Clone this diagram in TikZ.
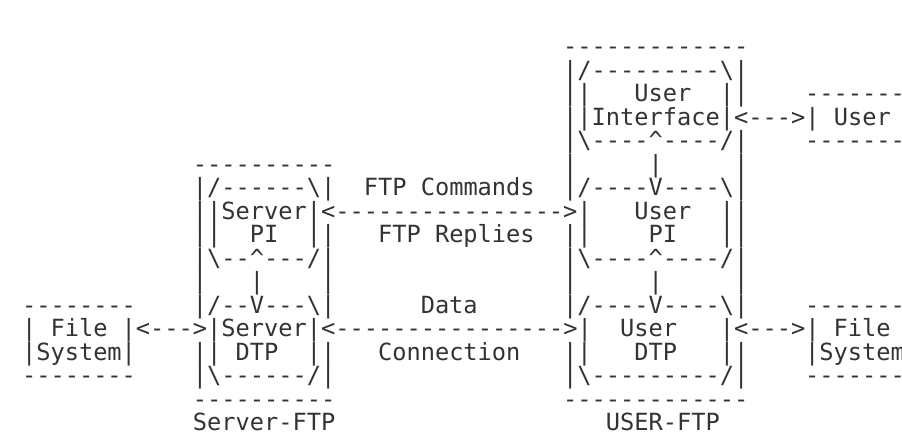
\documentclass[tikz,border=0pt]{standalone}
\usepackage{fontspec}
\setmonofont{DejaVu Sans Mono}
\newcommand{\BS}{\textbackslash}
\newcommand{\UP}{\textasciicircum}
\tikzset{asc/.style={anchor=base west,inner sep=0pt,outer sep=0pt,
    text=black!80,font=\ttfamily\fontsize{11.83pt}{11.75pt}\selectfont}}

\begin{document}
\begin{tikzpicture}
\useasboundingbox (0,0) rectangle (451pt,-217pt);
\fill[white] (0,0) rectangle (451pt,-217pt);
\clip (0,0) rectangle (451pt,-217pt);

\begin{scope}[shift={(-31.7pt,-27.25pt)},x=7.12pt,y=-11.75pt]

% user interface
\node[asc] (uiTop) at (44,0) {-------------};
\node[asc] (uiA) at (44,1) {|/---------\BS|};
\node[asc] (uiB) at (44,2) {||};
\node[asc] (uiUser) at (49,2) {User};
\node[asc] (uiC) at (55,2) {||};
\node[asc] (usrTop) at (61,2) {--------};
\node[asc] (uiIntf) at (44,3) {||Interface|<--->|~User~|};
\node[asc] (uiBot) at (44,4) {|\BS----\UP----/|};
\node[asc] (usrBot) at (61,4) {--------};

% server PI / user PI
\node[asc] (srvTop) at (18,5) {----------};
\node[asc] (uiD) at (44,5) {|};
\node[asc] (uiE) at (50,5) {|};
\node[asc] (uiF) at (56,5) {|};
\node[asc] (spiTop) at (18,6) {|/------\BS|};
\node[asc] (cmds) at (30,6) {FTP~Commands};
\node[asc] (upiTop) at (44,6) {|/----V----\BS|};
\node[asc] (spiSrv) at (18,7) {||Server|<---------------->|};
\node[asc] (upiUser) at (49,7) {User};
\node[asc] (upiA) at (55,7) {||};
\node[asc] (spiA) at (18,8) {||};
\node[asc] (spiPI) at (22,8) {PI};
\node[asc] (spiB) at (26,8) {||};
\node[asc] (replies) at (31,8) {FTP~Replies};
\node[asc] (upiB) at (44,8) {||};
\node[asc] (upiPI) at (50,8) {PI};
\node[asc] (upiC) at (55,8) {||};
\node[asc] (spiBot) at (18,9) {|\BS--\UP---/|};
\node[asc] (upiBot) at (44,9) {|\BS----\UP----/|};
\node[asc] (srvA) at (18,10) {|};
\node[asc] (srvB) at (22,10) {|};
\node[asc] (srvC) at (27,10) {|};
\node[asc] (usrA) at (44,10) {|};
\node[asc] (usrB) at (50,10) {|};
\node[asc] (usrC) at (56,10) {|};

% file systems and DTPs
\node[asc] (sfsTop) at (6,11) {--------};
\node[asc] (sdtpTop) at (18,11) {|/--V---\BS|};
\node[asc] (data) at (34,11) {Data};
\node[asc] (udtpTop) at (44,11) {|/----V----\BS|};
\node[asc] (ufsTop) at (61,11) {--------};
\node[asc] (sdtpSrv) at (6,12) {|~File~|<--->|Server|<---------------->|};
\node[asc] (udtpUser) at (48,12) {User};
\node[asc] (ufsFile) at (55,12) {|<--->|~File~|};
\node[asc] (sfsSys) at (6,13) {|System|};
\node[asc] (sdtpA) at (18,13) {||};
\node[asc] (sdtpDTP) at (21,13) {DTP};
\node[asc] (sdtpB) at (26,13) {||};
\node[asc] (conn) at (31,13) {Connection};
\node[asc] (udtpA) at (44,13) {||};
\node[asc] (udtpDTP) at (49,13) {DTP};
\node[asc] (udtpB) at (55,13) {||};
\node[asc] (ufsSys) at (61,13) {|System|};
\node[asc] (sfsBot) at (6,14) {--------};
\node[asc] (sdtpBot) at (18,14) {|\BS------/|};
\node[asc] (udtpBot) at (44,14) {|\BS---------/|};
\node[asc] (ufsBot) at (61,14) {--------};
\node[asc] (srvBot) at (18,15) {----------};
\node[asc] (usrBot2) at (44,15) {-------------};

% labels
\node[asc] (srvLbl) at (18,16) {Server-FTP};
\node[asc] (usrLbl) at (47,16) {USER-FTP};

\end{scope}
\end{tikzpicture}
\end{document}
